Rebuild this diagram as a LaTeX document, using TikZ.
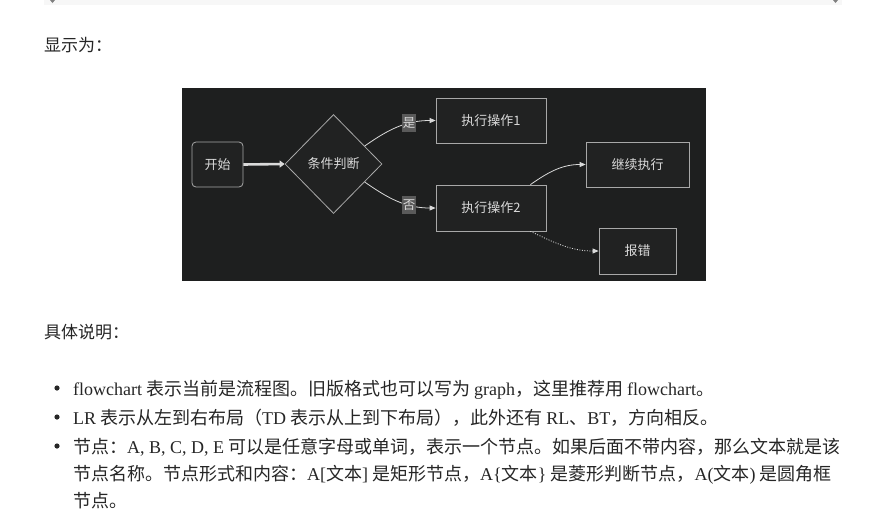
\documentclass[tikz,border=0pt]{standalone}
\usepackage{fontspec}
\setmainfont{Liberation Serif}
\newfontfamily\cjk{Noto Sans CJK SC}
\newcommand{\latn}[1]{{\rmfamily #1}}
\usetikzlibrary{positioning,arrows.meta,shapes.geometric}
\definecolor{panel}{HTML}{1E1F1F}
\definecolor{nodefill}{HTML}{212222}
\definecolor{edge}{HTML}{DADADA}
\definecolor{border}{HTML}{A8A8A8}
\definecolor{bodytext}{HTML}{262626}
\definecolor{lblfill}{HTML}{5A5A5A}
\definecolor{barfill}{HTML}{F7F7F7}
\tikzset{
  box/.style={draw=border, fill=nodefill, text=edge, line width=0.8pt, inner sep=0pt,
    font=\cjk\fontsize{13}{15}\selectfont},
  startbox/.style={box, rounded corners=4pt},
  decision/.style={box, diamond, minimum width=97pt, minimum height=99pt},
  lbl/.style={fill=lblfill, text=edge, inner sep=1pt, minimum width=14pt, minimum height=18pt,
    font=\cjk\fontsize{12.5}{14}\selectfont},
  flow/.style={draw=edge, line width=0.8pt, -{Triangle[length=6pt,width=5pt]}},
  thickflow/.style={flow, line width=2.6pt, -{Triangle[length=5pt,width=7pt]}},
  body/.style={anchor=base west, inner sep=0pt, text=bodytext,
    font=\cjk\fontsize{18}{22}\selectfont},
}
\begin{document}
\begin{tikzpicture}[x=1pt,y=-1pt]
\useasboundingbox (0,0) rectangle (883,517);
\fill[white] (0,0) rectangle (883,517);
\fill[barfill] (44,0) rectangle (842,5);
\fill[gray] (50,0) -- (55,0) -- (52.5,3) -- cycle;
\fill[gray] (833,0) -- (838,0) -- (835.5,3) -- cycle;

\node[body, font=\cjk\fontsize{17}{20}\selectfont] (show) at (44,51) {显示为：};

\fill[panel] (182,88) rectangle (706,281);
\node[startbox, minimum width=51pt, minimum height=45pt] (start) at (217.5,164.5) {开始};
\node[decision] (cond) at (333.5,164) {条件判断};
\node[box, minimum width=110pt, minimum height=45pt] (op1) at (491,120.5) {执行操作1};
\node[box, minimum width=110pt, minimum height=46pt] (op2) at (491,208) {执行操作2};
\node[box, minimum width=103pt, minimum height=45pt] (cont) at (637.5,164.5) {继续执行};
\node[box, minimum width=77pt, minimum height=46pt] (err) at (637.5,251) {报错};
\draw[thickflow] (start.east) -- (cond.west);
\draw[flow] (cond.30) to[out=35,in=180] node[lbl, pos=0.66] (yes) {是} (op1.west);
\draw[flow] (cond.-30) to[out=-35,in=180] node[lbl, pos=0.66] (no) {否} (op2.west);
\draw[flow] ([xshift=-16pt]op2.north east) to[out=35,in=180] (cont.west);
\draw[flow, dash pattern=on 1pt off 1.5pt] ([xshift=-16pt]op2.south east) to[out=-25,in=180] (err.west);

\node[body, font=\cjk\fontsize{17}{20}\selectfont] (detail) at (44,338) {具体说明：};
\foreach \y in {388,417,446} {
  \fill[bodytext] (57,\y) circle (2.6pt);
}
\node[body] (item1) at (73,395) {\latn{flowchart} 表示当前是流程图。旧版格式也可以写为 \latn{graph}，这里推荐用 \latn{flowchart}。};
\node[body] (item2) at (73,424) {\latn{LR} 表示从左到右布局（\latn{TD} 表示从上到下布局），此外还有 \latn{RL}、\latn{BT}，方向相反。};
\node[body] (item3) at (73,453) {节点：\latn{A, B, C, D, E} 可以是任意字母或单词，表示一个节点。如果后面不带内容，那么文本就是该};
\node[body] (item3b) at (73,480) {节点名称。节点形式和内容：\latn{A[}文本\latn{]} 是矩形节点，\latn{A\{}文本\latn{\}} 是菱形判断节点，\latn{A(}文本\latn{)} 是圆角框};
\node[body] (item3c) at (73,507) {节点。};
\end{tikzpicture}
\end{document}
